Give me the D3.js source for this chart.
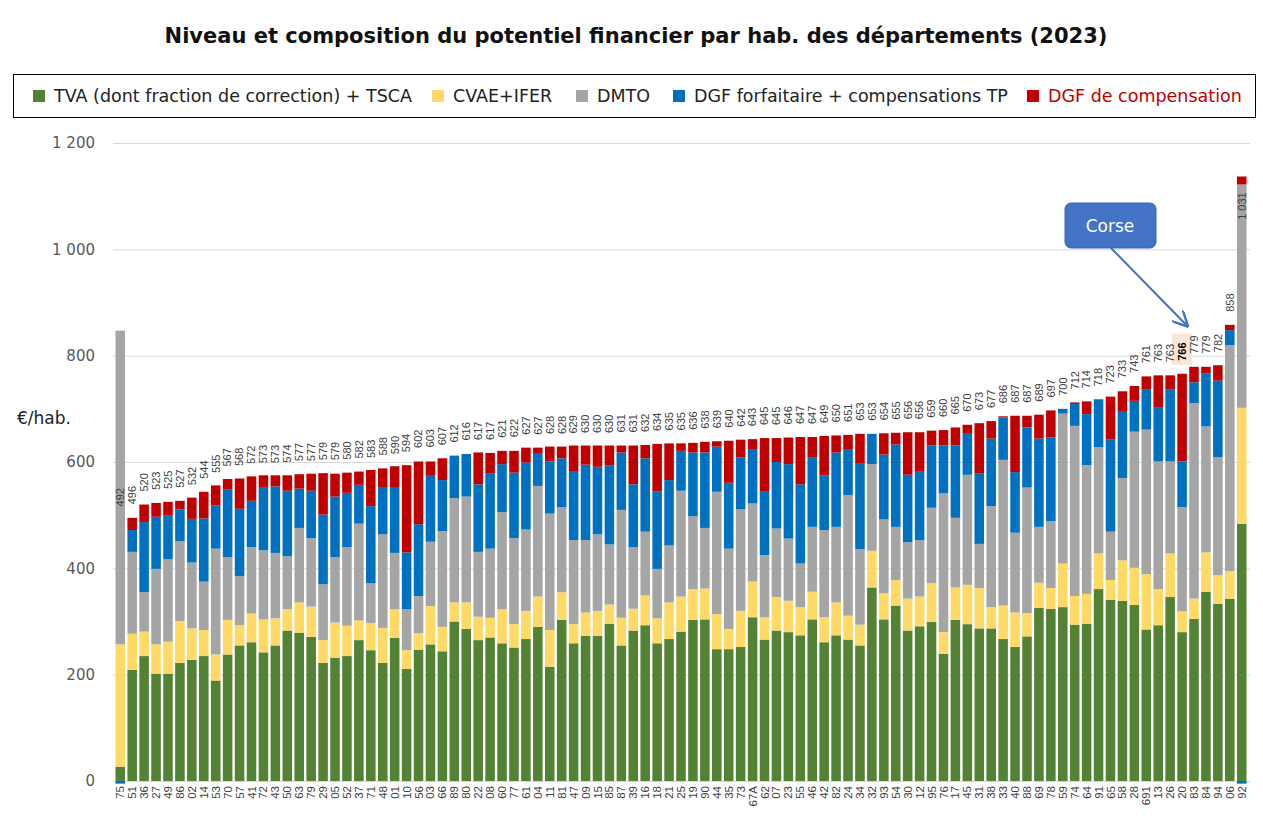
<!DOCTYPE html>
<html>
<head>
<meta charset="utf-8">
<script src="https://cdn.jsdelivr.net/npm/d3@7"></script>
<style>
body { margin: 0; background: #fff; }
text { font-family: "Liberation Sans", Arial, sans-serif; }
text.wide, .wide text { font-family: "DejaVu Sans", Verdana, sans-serif; }
</style>
</head>
<body>
<script>

// departements, sorted by total potential
var depts = ["75","51","36","27","49","86","02","14","53","70","57","41","72","43","50","63","79","29","05","52","37","71","48","01",
	"10","56","03","66","89","80","22","08","60","77","61","04","11","81","47","09","15","85","87","39","16","18","21","25","19","90","44","35","73",
	"67A",
	"62","07","23","55","46","42","82","24","34","32","93","54","30","12","95","76","17","45","31","38","33","40","88","69","78","59","74","64","91","65","58","28",
	"691","13","26","20","83","84","94","06","92"];

// printed totals (€/hab.)
var totals = [492,496,520,523,525,527,532,544,555,567,568,572,573,573,574,577,577,579,579,580,582,583,588,590,
	594,602,603,607,612,616,617,617,621,622,627,627,628,628,629,630,630,630,631,631,632,634,635,635,636,638,639,640,642,643,
	645,645,646,647,647,649,650,651,653,653,654,655,656,656,659,660,665,670,
	673,677,686,687,687,689,697,700,712,714,718,723,733,743,761,763,763,766,779,779,782,858,1031];

// TVA (dont fraction de correction) + TSCA
var tva = [27,209,235,202,202,222,228,235,189,238,255,261,242,255,283,279,271,222,232,235,265,246,222,269,
	211,247,257,244,300,286,265,270,259,251,267,290,215,303,259,273,273,296,255,283,293,259,267,281,
	303,304,248,248,252,308,266,283,280,274,304,261,274,266,255,364,304,330,283,291,299,239,303,295,
	287,287,267,252,272,326,324,327,294,296,361,341,339,331,285,293,346,280,305,356,333,343,484];

// CVAE+IFER
var cvae = [230,68,46,55,60,79,59,49,49,65,38,54,62,51,40,57,57,43,66,57,37,51,66,54,
	35,31,72,46,36,50,44,37,64,44,53,57,69,52,36,44,47,36,52,41,56,47,69,66,
	58,58,66,38,68,67,42,63,59,53,52,47,62,45,39,69,49,48,60,56,73,41,61,74,
	76,40,63,65,44,47,39,82,54,56,67,37,76,70,104,68,82,39,38,74,54,52,218];

// DMTO
var dmto = [590,154,74,142,155,150,124,91,199,118,92,125,130,123,100,140,129,105,123,148,182,75,176,106,
	77,70,121,180,196,199,122,130,183,162,153,208,219,160,158,136,144,113,203,116,120,93,107,199,
	137,114,230,151,191,147,117,129,117,82,122,164,142,227,142,163,139,100,106,106,142,261,131,207,
	83,190,274,150,236,105,126,282,320,242,200,91,155,256,272,240,173,196,368,237,222,425,420];

// DGF forfaitaire + compensations TP
var dgfForf = [-5,41,132,98,83,60,82,119,81,128,127,87,119,125,123,74,89,131,114,102,73,145,89,124,
	107,135,124,96,80,80,127,141,90,123,126,62,98,92,130,142,127,149,108,118,138,146,123,75,
	120,142,85,124,98,101,119,125,140,149,130,103,140,85,162,57,122,155,127,130,117,90,136,77,
	132,127,80,114,113,166,157,9,41,96,90,173,126,58,76,101,136,86,39,100,144,28,-5];

// DGF de compensation
var dgfComp = [0,23,33,26,25,16,40,50,38,19,57,46,22,21,29,27,32,78,43,38,25,68,35,39,
	164,118,27,41,0,0,60,39,25,41,28,10,28,22,48,36,40,37,13,73,25,89,69,14,
	18,20,10,79,33,20,101,45,50,89,39,74,32,28,55,0,40,22,80,73,28,29,34,17,
	95,33,2,106,22,45,51,0,3,24,0,81,37,28,24,61,26,165,29,12,29,10,15];

var keys = ["tva", "cvae", "dmto", "dgfForf", "dgfComp"];
var names = ["TVA (dont fraction de correction) + TSCA", "CVAE+IFER", "DMTO", "DGF forfaitaire + compensations TP", "DGF de compensation"];
var colors = ["#548235", "#ffd966", "#a5a5a5", "#0070c0", "#c00000"];
var legendX = [33, 432, 576, 673, 1027];
var corse = "20";

var width = 1263,
	height = 825;

var svg = d3.select("body").append("svg")
	.attr("width", width)
	.attr("height", height);

svg.append("rect").attr("width", width).attr("height", height).attr("fill", "#fff");

var x = d3.scaleBand()
	.domain(d3.range(depts.length))
	.range([114.3, 1247.7])
	.paddingInner(0.2)
	.paddingOuter(0.1);

var y = d3.scaleLinear()
	.domain([0, 1200])
	.range([781, 143]);

var fr = d3.formatLocale({decimal: ",", thousands: "\u00a0", grouping: [3], currency: ["", " €"]});

// title
svg.append("text")
	.attr("class", "wide")
	.attr("x", 636)
	.attr("y", 43)
	.attr("text-anchor", "middle")
	.attr("font-size", 21)
	.attr("font-weight", "bold")
	.attr("fill", "#111")
	.text("Niveau et composition du potentiel financier par hab. des départements (2023)");

// legend box
var legend = svg.append("g");
legend.append("rect")
	.attr("x", 13.5).attr("y", 74.5)
	.attr("width", 1242).attr("height", 43)
	.attr("fill", "none")
	.attr("stroke", "#000");

var item = legend.selectAll(".item")
	.data(names)
	.enter().append("g")
	.attr("class", "item")
	.attr("transform", function(d, i) { return "translate(" + legendX[i] + ",0)"; });

item.append("rect")
	.attr("y", 90).attr("width", 12).attr("height", 12)
	.attr("fill", function(d, i) { return colors[i]; });

item.append("text")
	.attr("class", "wide")
	.attr("x", 21).attr("y", 102)
	.attr("font-size", 17.5)
	.attr("fill", function(d, i) { return i == 4 ? "#c00000" : "#222"; })
	.text(function(d) { return d; });

// y axis with gridlines
var yAxis = svg.append("g")
	.attr("class", "wide")
	.attr("transform", "translate(113,0)")
	.call(d3.axisLeft(y).ticks(6).tickSize(-1137).tickPadding(18).tickFormat(fr.format(",")));

yAxis.select(".domain").remove();
yAxis.selectAll("line").attr("stroke", "#d9d9d9");
yAxis.selectAll("text")
	.attr("font-size", 15)
	.attr("fill", "#595959");

svg.append("text")
	.attr("class", "wide")
	.attr("x", 17).attr("y", 424)
	.attr("font-size", 17)
	.attr("fill", "#222")
	.text("€/hab.");

// stacked bars
var rows = depts.map(function(d, i) {
	return {tva: tva[i], cvae: cvae[i], dmto: dmto[i], dgfForf: dgfForf[i], dgfComp: dgfComp[i]};
});

var series = d3.stack()
	.keys(keys)
	.offset(d3.stackOffsetDiverging)(rows);

svg.append("g").selectAll("g")
	.data(series)
	.enter().append("g")
	.attr("fill", function(d, i) { return colors[i]; })
	.selectAll("rect")
	.data(function(d) { return d; })
	.enter().append("rect")
	.attr("x", function(d, i) { return x(i); })
	.attr("y", function(d) { return y(Math.max(d[0], d[1])); })
	.attr("width", x.bandwidth())
	.attr("height", function(d) { return Math.abs(y(d[0]) - y(d[1])); });

// x labels (departements)
svg.append("g").selectAll("text")
	.data(depts)
	.enter().append("text")
	.attr("transform", function(d, i) { return "translate(" + (x(i) + x.bandwidth() / 2) + ",786) rotate(-90)"; })
	.attr("dy", "0.35em")
	.attr("text-anchor", "end")
	.attr("font-size", 11.5)
	.attr("fill", "#404040")
	.text(function(d) { return d; });

// corse highlight behind its total
var ci = depts.indexOf(corse);
svg.append("rect")
	.attr("x", x(ci) + x.bandwidth() / 2 - 10)
	.attr("y", y(totals[ci]) - 40)
	.attr("width", 20)
	.attr("height", 31)
	.attr("fill", "#fbe5d6");

// totals
svg.append("g").selectAll("text")
	.data(totals)
	.enter().append("text")
	.attr("transform", function(d, i) { return "translate(" + (x(i) + x.bandwidth() / 2) + "," + (y(d) - 13) + ") rotate(-90)"; })
	.attr("dy", "0.35em")
	.attr("font-size", 11)
	.attr("font-weight", function(d, i) { return i == ci ? "bold" : null; })
	.attr("fill", function(d, i) { return i == ci ? "#000" : "#404040"; })
	.text(function(d) { return fr.format(",")(d); });

// annotation
svg.append("defs").append("marker")
	.attr("id", "arrow")
	.attr("viewBox", "0 0 10 10")
	.attr("refX", 9).attr("refY", 5)
	.attr("markerWidth", 8).attr("markerHeight", 8)
	.attr("orient", "auto")
	.append("path")
	.attr("d", "M0,0 L10,5 L0,10")
	.attr("fill", "none")
	.attr("stroke", "#4472c4")
	.attr("stroke-width", 1.5);

svg.append("line")
	.attr("x1", 1111).attr("y1", 248)
	.attr("x2", x(ci) + x.bandwidth() / 2 + 5)
	.attr("y2", y(totals[ci]) - 48)
	.attr("stroke", "#4472c4")
	.attr("stroke-width", 2)
	.attr("marker-end", "url(#arrow)");

svg.append("rect")
	.attr("x", 1065).attr("y", 203)
	.attr("width", 91).attr("height", 45)
	.attr("rx", 6)
	.attr("fill", "#4472c4")
	.attr("stroke", "#3a64ad");

svg.append("text")
	.attr("class", "wide")
	.attr("x", 1110).attr("y", 232)
	.attr("text-anchor", "middle")
	.attr("font-size", 17)
	.attr("fill", "#fff")
	.text("Corse");

</script>
</body>
</html>
